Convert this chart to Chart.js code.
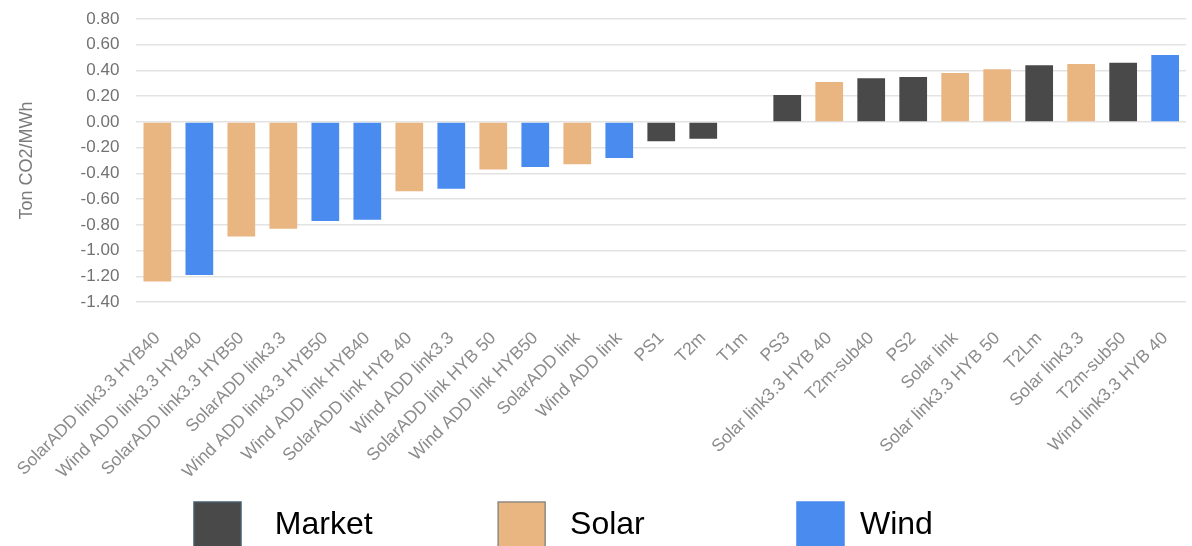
<!DOCTYPE html>
<html>
<head>
<meta charset="utf-8">
<script src="https://cdn.jsdelivr.net/npm/chart.js@4.4.1/dist/chart.umd.min.js"></script>
<style>
  html, body { margin: 0; padding: 0; background: #fff; overflow: hidden; }
  #wrap { width: 1198px; height: 559px; position: relative; }
</style>
</head>
<body>
<div id="wrap"><canvas id="chart"></canvas></div>
<script>
// categories, sorted as in the picture
let categories = [
  'SolarADD link3.3 HYB40', 'Wind ADD link3.3 HYB40', 'SolarADD link3.3 HYB50', 'SolarADD link3.3',
  'Wind ADD link3.3 HYB50', 'Wind ADD link HYB40', 'SolarADD link HYB 40', 'Wind ADD link3.3',
  'SolarADD link HYB 50', 'Wind ADD link HYB50', 'SolarADD link', 'Wind ADD link',
  'PS1', 'T2m', 'T1m', 'PS3', 'Solar link3.3 HYB 40', 'T2m-sub40', 'PS2', 'Solar link',
  'Solar link3.3 HYB 50', 'T2Lm', 'Solar link3.3', 'T2m-sub50', 'Wind link3.3 HYB 40'
]

// Ton CO2/MWh
let values = [
  -1.24, -1.19, -0.89, -0.83, -0.77, -0.76, -0.54, -0.52, -0.37, -0.35, -0.33, -0.28,
  -0.15, -0.13, 0, 0.21, 0.31, 0.34, 0.35, 0.38, 0.41, 0.44, 0.45, 0.46, 0.52
]

let types = [
  'Solar', 'Wind', 'Solar', 'Solar', 'Wind', 'Wind', 'Solar', 'Wind', 'Solar', 'Wind', 'Solar', 'Wind',
  'Market', 'Market', 'Market', 'Market', 'Solar', 'Market', 'Market', 'Solar',
  'Solar', 'Market', 'Solar', 'Market', 'Wind'
]

let groups = ['Market', 'Solar', 'Wind']
let yTicks = [0.8, 0.6, 0.4, 0.2, 0, -0.2, -0.4, -0.6, -0.8, -1.0, -1.2, -1.4]

const colors = { Market: '#494949', Solar: '#E9B581', Wind: '#4A8BEF' }
const boxBorders = { Market: '#4a5e6c', Solar: '#8f8a82', Wind: '#4A8BEF' }
// spaces keep the legend items where they sit in the picture
const legendText = {
  Market: '  Market             ',
  Solar: ' Solar                ',
  Wind: 'Wind        '
}

let datasets = groups.map(g => ({
  label: g,
  data: values.map((v, i) => types[i] === g ? v : null),
  backgroundColor: colors[g],
  borderWidth: 0,
  barPercentage: 0.66,
  categoryPercentage: 1
}))

let chart = new Chart(document.getElementById('chart'), {
  type: 'bar',
  data: { labels: categories, datasets: datasets },
  options: {
    responsive: true,
    maintainAspectRatio: false,
    animation: false,
    layout: { padding: { top: 0, left: 0, right: 0, bottom: 0 } },
    plugins: {
      tooltip: { enabled: false },
      legend: {
        position: 'bottom',
        labels: {
          boxWidth: 47,
          boxHeight: 47,
          padding: 10,
          color: '#4a4a4a',
          font: { family: 'Liberation Sans, Arial, sans-serif', size: 32 },
          generateLabels: (c) => groups.map((g, i) => ({
            text: legendText[g],
            fillStyle: colors[g],
            strokeStyle: boxBorders[g],
            lineWidth: 1.5,
            hidden: false,
            datasetIndex: i
          }))
        }
      }
    },
    scales: {
      x: {
        stacked: true,
        grid: { display: false },
        border: { display: false },
        afterFit: (scale) => { scale.height = 190 },
        ticks: {
          autoSkip: false,
          minRotation: 45,
          maxRotation: 45,
          padding: 18,
          color: '#8c8c8c',
          font: { family: 'Liberation Sans, Arial, sans-serif', size: 17.5 }
        }
      },
      y: {
        stacked: true,
        min: -1.4,
        max: 0.8,
        afterFit: (scale) => {
          scale.width = 136
          scale.paddingTop = 19
          scale.paddingBottom = 0
        },
        afterBuildTicks: (scale) => { scale.ticks = yTicks.map(v => ({ value: v })) },
        grid: { color: '#e3e3e3', lineWidth: 1.5, drawTicks: false },
        border: { display: false },
        ticks: {
          padding: 17,
          color: '#727272',
          font: { family: 'Liberation Sans, Arial, sans-serif', size: 17 },
          callback: (v) => Number(v).toFixed(2)
        },
        title: {
          display: true,
          text: 'Ton CO2/MWh',
          color: '#7a7a7a',
          padding: { top: 16, bottom: 0 },
          font: { family: 'Liberation Sans, Arial, sans-serif', size: 18 }
        }
      }
    }
  }
})
</script>
</body>
</html>
